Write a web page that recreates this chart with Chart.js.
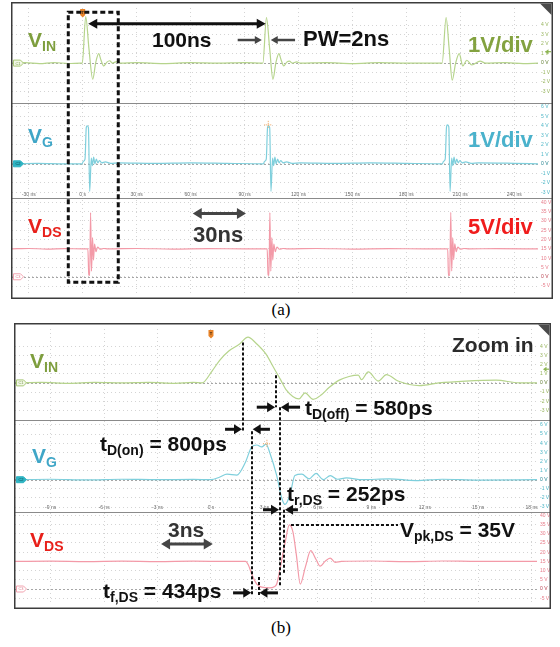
<!DOCTYPE html>
<html>
<head>
<meta charset="utf-8">
<title>Scope captures</title>
<script src="https://cdn.jsdelivr.net/npm/chart.js@4.4.1/dist/chart.umd.min.js"></script>
<style>
  html, body { margin: 0; padding: 0; background: #fff; }
  body { position: relative; width: 560px; height: 647px; overflow: hidden;
         font-family: Arial, "Liberation Sans", Helvetica, sans-serif; }
  canvas { position: absolute; }
  .lbl { position: absolute; font-weight: bold; font-size: 21px; line-height: 1; white-space: nowrap; }
  .lbl .sb { font-size: 14px; position: relative; top: 4px; }
  .cap { position: absolute; left: 0; width: 562px; text-align: center;
         font-family: "Liberation Serif", "Times New Roman", serif; font-size: 17px; line-height: 1; }
</style>
</head>
<body>
<canvas id="scopeA" width="542" height="297" style="left:11px;top:2px"></canvas>
<canvas id="scopeB" width="537" height="286" style="left:14px;top:323px"></canvas>

<div class="lbl" style="left:28px;top:29px;color:#7e9e3e">V<span class="sb">IN</span></div>
<div class="lbl" style="left:152px;top:29px;color:#111">100ns</div>
<div class="lbl" style="left:303px;top:28px;font-size:22px;color:#111">PW=2ns</div>
<div class="lbl" style="left:468px;top:34px;font-size:22px;color:#83a240">1V/div</div>
<div class="lbl" style="left:28px;top:125px;color:#3fa6c7">V<span class="sb">G</span></div>
<div class="lbl" style="left:468px;top:129px;font-size:22px;color:#4ab2cc">1V/div</div>
<div class="lbl" style="left:28px;top:215px;color:#e8201a">V<span class="sb">DS</span></div>
<div class="lbl" style="left:193px;top:224px;font-size:22px;color:#333">30ns</div>
<div class="lbl" style="left:468px;top:216px;font-size:22px;color:#f01c1c">5V/div</div>
<div class="cap" style="top:301px">(a)</div>

<div class="lbl" style="left:30px;top:350px;color:#7e9e3e">V<span class="sb">IN</span></div>
<div class="lbl" style="left:452px;top:334px;color:#2b2b2b">Zoom in</div>
<div class="lbl" style="left:305px;top:397px;color:#111">t<span class="sb">D(off)</span> = 580ps</div>
<div class="lbl" style="left:100px;top:433px;color:#111">t<span class="sb">D(on)</span> = 800ps</div>
<div class="lbl" style="left:32px;top:445px;color:#3fa6c7">V<span class="sb">G</span></div>
<div class="lbl" style="left:287px;top:483px;color:#111">t<span class="sb">r,DS</span> = 252ps</div>
<div class="lbl" style="left:30px;top:529px;color:#e8201a">V<span class="sb">DS</span></div>
<div class="lbl" style="left:168px;top:519px;color:#333">3ns</div>
<div class="lbl" style="left:103px;top:580px;color:#111">t<span class="sb">f,DS</span> = 434ps</div>
<div class="lbl" style="left:400px;top:519px;color:#111">V<span class="sb">pk,DS</span> = 35V</div>
<div class="cap" style="top:619px">(b)</div>

<script>
// time axis ticks (ns) and their scope labels
const xTicksA = [-30, 0, 30, 60, 90, 120, 150, 180, 210, 240];
const xLabelsA = ['-30 ns', '0 s', '30 ns', '60 ns', '90 ns', '120 ns', '150 ns', '180 ns', '210 ns', '240 ns'];
const xTicksB = [-9, -6, -3, 0, 3, 6, 9, 12, 15, 18];
const xLabelsB = ['-9 ns', '-6 ns', '-3 ns', '0 s', '3 ns', '6 ns', '9 ns', '12 ns', '15 ns', '18 ns'];

// volt ticks per channel
const vinTicks = [4, 3, 2, 1, 0, -1, -2, -3];
const vgTicks = [6, 5, 4, 3, 2, 1, 0, -1, -2, -3];
const vdsTicks = [40, 35, 30, 25, 20, 15, 10, 5, 0, -5];

// (a) three pulses, [ns, V]
const vinA = [[-39.3,0],[-32,0.05],[-24,-0.05],[-16,0.06],[-8,-0.04],[-1,0],[-0.2,0],[1.7,4.9],[3.5,1.5],[5.6,-1.7],[7.2,0],[8.9,1.0],[10.2,0.3],[11.7,-0.3],[13.5,0.1],[15,0.25],[16.5,0],[18.9,0.15],[21,0],[30,0.05],[45,-0.05],[60,0.05],[75,0],[90,0.05],[100.2,0],[102.2,4.8],[104,1.5],[105.8,-1.7],[107.4,0],[109.1,1.0],[110.4,0.3],[111.8,-0.3],[113.5,0.1],[115,0.2],[116.5,0],[119,0.12],[121,0],[135,0.05],[150,-0.05],[165,0.05],[180,0],[199.9,0],[202.1,4.8],[203.8,1.5],[205.5,-1.8],[207.4,0],[209.4,1.0],[211.4,-0.3],[213.6,0.3],[216.4,-0.2],[221,0.2],[224,0],[235,0.05],[245,-0.05],[253.2,0]];
const vgA = [[-39.3,0],[-25,0.05],[-10,0],[-0.3,0],[0.3,0.25],[1.3,0.5],[2.0,3.8],[2.5,4.0],[3.2,3.8],[3.9,-2.9],[4.8,0.6],[5.4,-0.2],[6.1,0.7],[6.8,0],[7.6,0.5],[8.4,0.1],[9.3,0.35],[10.6,0.1],[12.6,0.2],[15.6,0.05],[20,0.1],[40,0.05],[60,0.1],[80,0.05],[100.5,0],[101.1,0.25],[102.1,0.5],[102.8,3.8],[103.3,4.0],[104,3.8],[104.7,-2.9],[105.6,0.6],[106.2,-0.2],[106.9,0.7],[107.6,0],[108.4,0.5],[109.2,0.1],[110.1,0.35],[111.4,0.1],[113.4,0.2],[116.4,0.05],[121,0.1],[140,0.05],[160,0.1],[180,0.05],[200,0],[200.6,0.25],[201.6,0.5],[202.3,3.8],[202.8,4.1],[203.6,3.9],[204.3,-2.9],[205.2,0.6],[205.8,-0.2],[206.5,0.7],[207.2,0],[208,0.5],[208.8,0.1],[209.7,0.35],[211,0.1],[213,0.2],[216,0.05],[220,0.1],[240,0.05],[253.2,0]];
const vdsA = [[-39.3,15],[-30,15.2],[-20,14.9],[-10,15.1],[0,15],[2.9,15],[3.4,1],[3.9,0.8],[4.4,34.5],[4.9,3],[5.5,21],[6.0,9],[6.6,17.5],[7.4,13.5],[8.3,16],[9.7,14.8],[11.7,15.2],[14,15],[30,15.2],[50,14.9],[70,15.1],[90,15],[102.6,15],[103.1,1],[103.6,0.8],[104.1,34.5],[104.6,3],[105.2,21],[105.7,9],[106.3,17.5],[107.1,13.5],[108,16],[109.4,14.8],[111.4,15.2],[114,15],[130,15.2],[150,14.9],[170,15.1],[190,15],[203,15],[203.4,0.9],[204.1,0.8],[204.7,34.6],[205.2,3.1],[205.8,21],[206.3,9.2],[206.9,17.7],[207.7,13.5],[208.6,16],[210,14.8],[212,15.2],[215,15],[230,15.1],[253.2,15]];

// (b) one pulse zoomed in, [ns, V]
const vinB = [[-11,0],[-9.5,0.05],[-8,-0.05],[-6.5,0.05],[-5,0],[-3.5,0.05],[-2,-0.05],[-1,0.05],[-0.5,0],[0.06,1.3],[0.5,2.5],[1.0,3.5],[1.57,4.2],[2.08,5.0],[2.5,4.4],[3.07,3.2],[3.54,1.6],[3.92,0.3],[4.2,-0.7],[4.94,-1.75],[5.28,-1.1],[5.73,-1.8],[6.2,-1.3],[6.63,-0.5],[7.2,0.3],[7.75,0.7],[8.27,0.85],[8.45,0.35],[8.83,1.2],[9.39,0.2],[9.85,0.9],[10.5,0.2],[11.7,-0.3],[12.8,0],[14.3,0.2],[16.0,0.3],[17.3,0],[18.3,0]];
const vgB = [[-11,0],[-9,0.05],[-7,-0.03],[-5,0.05],[-3,0],[-1,0.03],[0,0],[0.5,0.3],[0.9,0.6],[1.45,0.5],[1.92,1.85],[2.29,3.6],[2.57,3.8],[2.85,3.6],[3.09,3.9],[3.31,2.9],[3.69,0.45],[3.97,-2.0],[4.15,-2.7],[4.43,-1.7],[4.71,0.45],[5.1,0.6],[5.5,0.1],[5.9,0.7],[6.3,0],[6.7,0.45],[7.1,0.05],[7.6,0.2],[8.5,0],[10,0.1],[11.5,-0.1],[13,0.05],[15,-0.05],[18.3,0]];
const vdsB = [[-11,15],[-9,15.1],[-7,14.9],[-5,15.1],[-3,14.9],[-1,15.1],[1,15],[1.94,15],[2.1,13],[2.29,8],[2.57,2.7],[2.85,1.0],[3.3,0.6],[3.55,1.2],[3.69,2.7],[3.87,10.6],[4.15,24.6],[4.4,34.8],[4.6,31],[4.8,18],[5.01,2.7],[5.3,12],[5.6,20.8],[5.9,16],[6.13,12.4],[6.4,15],[6.69,16.8],[6.97,14.5],[7.32,15],[9,15.2],[11,14.9],[13,15.2],[15,15],[18.3,15]];

// annotations of (a): [t1, t2, axis, volts]
const zoomBoxA = [-8.0, 19.8, 5.36, -2.9];
const periodArrowA = [[3.1, 101.8, 'yIn', 4.15]];
const pwArrowsA = [[86.2, 99.6, 'yIn', 2.43], [118.1, 104.6, 'yIn', 2.43]];
const spanArrowA = [[61.2, 90.8, 'yDs', 34.0]];
const cursorA = [103.2, 'yG', 4.1];

// annotations of (b)
const guideLinesB = [[1.80,'yIn',4.42,'yG',5.31],[2.30,'yG',5.31,'yDs',-3.4],[3.63,'yIn',0.83,'yIn',-2.66],[3.86,'yIn',-2.66,'yDs',1.8],[4.12,'yG',-3.3,'yDs',8.1],[2.68,'yDs',6.5,'yDs',-3.4]];
const timingArrowsB = [[0.79,1.74,'yG',5.52],[3.31,2.34,'yG',5.52],[2.57,3.6,'yIn',-2.66],[5.0,3.92,'yIn',-2.66],[2.92,3.82,'yG',-3.29],[4.88,4.16,'yG',-3.29],[1.24,2.26,'yDs',-2.1],[3.76,2.72,'yDs',-2.1]];
const spanArrowB = [[-2.8, 0.1, 'yDs', 24.4]];
const peakLineB = [[4.49, 10.5, 'yDs', 35]];
const cursorB = [3.14, 'yG', 3.93];

const toXY = pts => pts.map(([x, y]) => ({ x, y }));

function arrow(ctx, x1, y, x2, col, lw, hl, hw, both) {
  const d = Math.sign(x2 - x1);
  ctx.save();
  ctx.strokeStyle = col; ctx.fillStyle = col; ctx.lineWidth = lw; ctx.setLineDash([]);
  ctx.beginPath();
  ctx.moveTo(both ? x1 + d * hl * 0.8 : x1, y);
  ctx.lineTo(x2 - d * hl * 0.8, y);
  ctx.stroke();
  const head = (x, dd) => {
    ctx.beginPath();
    ctx.moveTo(x, y); ctx.lineTo(x - dd * hl, y - hw); ctx.lineTo(x - dd * hl, y + hw);
    ctx.closePath(); ctx.fill();
  };
  head(x2, d);
  if (both) head(x1, -d);
  ctx.restore();
}

function scopeDecor(o) {
  const ids = ['yIn', 'yG', 'yDs'];
  const tags = [['C1', 'yIn', '#f1f7e6', '#a9c878', '#7c9b4c'],
                ['C2', 'yG', '#2fb4c3', '#2fb4c3', '#0d4a52'],
                ['C3', 'yDs', '#ffffff', '#f2a2af', '#e07a88']];
  return {
    id: 'scopeDecor',
    beforeDatasetsDraw(chart) {
      const { ctx, chartArea: a, scales } = chart;
      ctx.save();
      ctx.strokeStyle = '#a6a6a6'; ctx.lineWidth = 1; ctx.setLineDash([2, 2]);
      ids.forEach(id => {
        const y = Math.round(scales[id].getPixelForValue(0)) + 0.5;
        ctx.beginPath(); ctx.moveTo(a.left, y); ctx.lineTo(a.right, y); ctx.stroke();
      });
      ctx.restore();
    },
    afterDraw(chart) {
      const { ctx, chartArea: a, scales, width: W, height: H } = chart;
      const X = t => scales.x.getPixelForValue(t);
      const Y = (id, v) => scales[id].getPixelForValue(v);
      ctx.save();

      // strip dividers and outer frame
      ctx.strokeStyle = '#8a8a8a'; ctx.lineWidth = 1;
      ['yG', 'yDs'].forEach(id => {
        const y = Math.round(scales[id].top) + 0.5;
        ctx.beginPath(); ctx.moveTo(0, y); ctx.lineTo(W, y); ctx.stroke();
      });
      ctx.strokeStyle = '#3c3c3c'; ctx.lineWidth = 1.5;
      ctx.strokeRect(0.75, 0.75, W - 1.5, H - 1.5);

      // time labels sit at the foot of the VG strip, as on the scope
      ctx.fillStyle = '#6a6a6a'; ctx.font = '5px Arial'; ctx.textAlign = 'center';
      o.xTicks.forEach((t, i) => ctx.fillText(o.xLabels[i], X(t), scales.yG.bottom - 2.5));

      // channel tags
      tags.forEach(([txt, id, fill, stroke, ink]) => {
        const x0 = a.left + 1.5, y0 = Y(id, 0);
        ctx.beginPath();
        ctx.moveTo(x0, y0 - 3); ctx.lineTo(x0 + 7, y0 - 3); ctx.lineTo(x0 + 10, y0);
        ctx.lineTo(x0 + 7, y0 + 3); ctx.lineTo(x0, y0 + 3); ctx.closePath();
        ctx.fillStyle = fill; ctx.fill();
        ctx.strokeStyle = stroke; ctx.lineWidth = 1; ctx.stroke();
        ctx.fillStyle = ink; ctx.font = '4px Arial'; ctx.textAlign = 'center'; ctx.textBaseline = 'middle';
        ctx.fillText(txt, x0 + 4.5, y0 + 0.3);
      });
      ctx.textBaseline = 'alphabetic';

      // trigger marker, corner flag, trigger level
      const tx = X(0);
      ctx.fillStyle = '#e8842a';
      ctx.fillRect(tx - 2.5, a.top + 1, 5, 6);
      ctx.beginPath(); ctx.moveTo(tx - 2.5, a.top + 7); ctx.lineTo(tx + 2.5, a.top + 7); ctx.lineTo(tx, a.top + 9.5); ctx.fill();
      ctx.fillStyle = '#3a2a10'; ctx.font = 'bold 4px Arial'; ctx.textAlign = 'center';
      ctx.fillText('T', tx, a.top + 5.8);
      ctx.fillStyle = '#4a4a4a';
      ctx.beginPath(); ctx.moveTo(W - 13, 1.5); ctx.lineTo(W - 1.5, 1.5); ctx.lineTo(W - 1.5, 13); ctx.fill();
      const ty = Y('yIn', o.trigLevel);
      ctx.fillStyle = '#8db552'; ctx.strokeStyle = '#8db552'; ctx.lineWidth = 1.2;
      ctx.beginPath(); ctx.moveTo(W - 8, ty); ctx.lineTo(W - 4.5, ty - 2.5); ctx.lineTo(W - 4.5, ty + 2.5); ctx.fill();
      ctx.beginPath(); ctx.moveTo(W - 5, ty); ctx.lineTo(W - 2, ty); ctx.stroke();

      // cursor cross on VG
      const cx = X(o.cursor[0]), cy = Y(o.cursor[1], o.cursor[2]);
      ctx.strokeStyle = '#f0a25a'; ctx.lineWidth = 1; ctx.setLineDash([1, 1]);
      ctx.beginPath(); ctx.moveTo(cx - 4, cy); ctx.lineTo(cx + 4, cy); ctx.moveTo(cx, cy - 4); ctx.lineTo(cx, cy + 4); ctx.stroke();

      // dashed zoom box
      if (o.box) {
        const b = o.box;
        ctx.strokeStyle = '#111'; ctx.lineWidth = 3; ctx.setLineDash([5, 3]);
        ctx.strokeRect(X(b[0]), Y('yIn', b[2]), X(b[1]) - X(b[0]), Y('yDs', b[3]) - Y('yIn', b[2]));
      }

      // dotted guide lines, snapped to whole pixels so the dots stay dark
      ctx.strokeStyle = '#111'; ctx.lineWidth = 2; ctx.setLineDash([3, 2]);
      (o.guides || []).forEach(([t, id1, v1, id2, v2]) => {
        const x = Math.round(X(t));
        ctx.beginPath(); ctx.moveTo(x, Y(id1, v1)); ctx.lineTo(x, Y(id2, v2)); ctx.stroke();
      });
      (o.hGuides || []).forEach(([t1, t2, id, v]) => {
        const y = Math.round(Y(id, v));
        ctx.beginPath(); ctx.moveTo(X(t1), y); ctx.lineTo(X(t2), y); ctx.stroke();
      });
      ctx.setLineDash([]);

      (o.blackDouble || []).forEach(([t1, t2, id, v]) => arrow(ctx, X(t1), Y(id, v), X(t2), '#111', 3, 9, 5, true));
      (o.blackSingle || []).forEach(([t1, t2, id, v]) => arrow(ctx, X(t1), Y(id, v), X(t2), '#111', 3, 8, 5, false));
      (o.graySingle || []).forEach(([t1, t2, id, v]) => arrow(ctx, X(t1), Y(id, v), X(t2), '#454545', 2.5, 7, 4, false));
      (o.grayDouble || []).forEach(([t1, t2, id, v]) => arrow(ctx, X(t1), Y(id, v), X(t2), '#454545', 3, 9, 5.5, true));
      ctx.restore();
    }
  };
}

function yAxis(range, ticks, color, dark, width) {
  return {
    type: 'linear', position: 'right', stack: 'scope', stackWeight: 1,
    min: range[0], max: range[1],
    afterBuildTicks: s => { s.ticks = ticks.map(v => ({ value: v })); },
    afterFit: s => { s.width = width; },
    ticks: { autoSkip: false, padding: 3, font: { size: 5, family: 'Arial' },
             color: c => (c.tick && c.tick.value === 0 ? dark : color),
             callback: v => v + ' V' },
    grid: { color: '#d4d4d4', drawTicks: false, lineWidth: 1 },
    border: { display: false, dash: [1, 3] }
  };
}

function makeScope(id, o) {
  const line = (pts, axis, col) => ({
    data: toXY(pts), yAxisID: axis, borderColor: col, borderWidth: 1.2,
    pointRadius: 0, fill: false, cubicInterpolationMode: 'monotone'
  });
  return new Chart(document.getElementById(id), {
    type: 'line',
    data: { datasets: [
      line(o.vin, 'yIn', '#b6d48c'),
      line(o.vg, 'yG', '#7fcfdc'),
      line(o.vds, 'yDs', '#f39aa8')
    ] },
    options: {
      responsive: false, animation: false, events: [],
      layout: { padding: { left: 1, top: 1, right: 1, bottom: 1 } },
      plugins: { legend: { display: false }, tooltip: { enabled: false } },
      scales: {
        x: { type: 'linear', min: o.xRange[0], max: o.xRange[1],
             afterBuildTicks: s => { s.ticks = o.xTicks.map(v => ({ value: v })); },
             ticks: { display: false },
             grid: { color: '#d4d4d4', drawTicks: false, lineWidth: 1 },
             border: { display: false, dash: [1, 3] } },
        yIn: yAxis(o.vinRange, vinTicks, '#97b45e', '#5d7a2c', o.axisW),
        yG: yAxis(o.vgRange, vgTicks, '#4fb6c6', '#1d7f8c', o.axisW),
        yDs: yAxis(o.vdsRange, vdsTicks, '#e77d8b', '#b8404f', o.axisW)
      }
    },
    plugins: [scopeDecor(o)]
  });
}

makeScope('scopeA', {
  vin: vinA, vg: vgA, vds: vdsA,
  xRange: [-39.3, 253.2], xTicks: xTicksA, xLabels: xLabelsA,
  vinRange: [-4.2, 5.8], vgRange: [-3.6, 6.4], vdsRange: [-8.7, 42.3], axisW: 14,
  trigLevel: 1.2, cursor: cursorA, box: zoomBoxA,
  blackDouble: periodArrowA, graySingle: pwArrowsA, grayDouble: spanArrowA
});

makeScope('scopeB', {
  vin: vinB, vg: vgB, vds: vdsB,
  xRange: [-11, 18.3], xTicks: xTicksB, xLabels: xLabelsB,
  vinRange: [-4.1, 5.9], vgRange: [-3.5, 6.5], vdsRange: [-7.6, 42], axisW: 13,
  trigLevel: 1.5, cursor: cursorB,
  guides: guideLinesB, hGuides: peakLineB,
  blackSingle: timingArrowsB, grayDouble: spanArrowB
});
</script>
</body>
</html>
